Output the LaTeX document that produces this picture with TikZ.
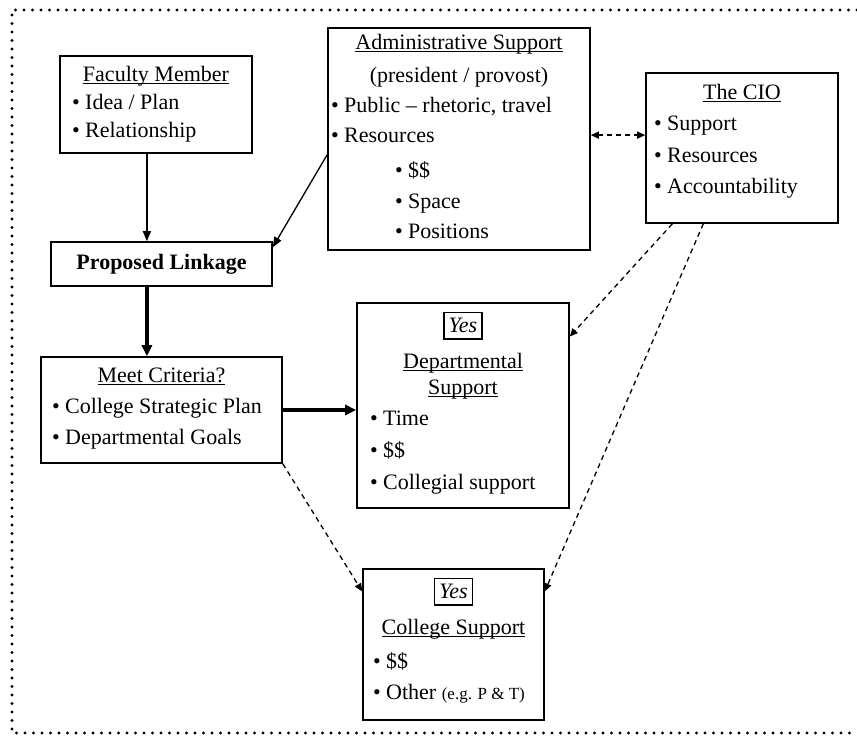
\documentclass[tikz,border=0pt]{standalone}
\usepackage{fontspec}
\setmainfont{Liberation Serif}
\usetikzlibrary{arrows.meta,calc}

% underlined heading: rule just under the baseline, through the descenders
\newcommand\hd[1]{\setbox0\hbox{#1}\rlap{\rule[-2.8pt]{\wd0}{1pt}}\box0}
\newcommand\cl[1]{\makebox[\linewidth]{#1}}
\newcommand\bl{\textbullet\ }
\newcommand\yes{{\setlength\fboxsep{4pt}\setlength\fboxrule{1.3pt}%
  \fbox{\rule[-2pt]{0pt}{17pt}\itshape Yes}}}
% first-line strut; also restores the font's own word spacing
\newcommand\st{\spaceskip=0pt\xspaceskip=0pt\rule{0pt}{21pt}}

\begin{document}
\begin{tikzpicture}[x=1pt,y=-1pt,
  box/.style={draw, line width=1.6pt, inner sep=0pt},
  txt/.style={inner sep=0pt, align=left, anchor=north,
    font=\fontsize{22}{30}\selectfont},
  thinarrow/.style={line width=1.3pt, -{Triangle[length=10pt,width=8pt]}},
  thickarrow/.style={line width=3.6pt, -{Triangle[length=11pt,width=10pt]}},
  dasharrow/.style={line width=1.3pt, dash pattern=on 5pt off 4pt,
    -{Triangle[length=8pt,width=7pt]}},
  border/.style={line width=3.2pt, line cap=round, dash pattern=on 0pt off 8.5pt}]
\useasboundingbox (0,0) rectangle (857,737);

% dotted frame (open on the right)
\draw[border] (857,10) -- (12,10) -- (12,733) -- (857,733);

% boxes
\node[box, minimum width=192, minimum height=97]  (fac)   at (156,104.5) {};
\node[box, minimum width=221, minimum height=44]  (prop)  at (161.5,264) {};
\node[box, minimum width=262, minimum height=222] (adm)   at (459,139) {};
\node[box, minimum width=192, minimum height=150] (cio)   at (742,148) {};
\node[box, minimum width=241, minimum height=106] (meet)  at (161.5,410) {};
\node[box, minimum width=212, minimum height=205] (dept)  at (463,405.5) {};
\node[box, minimum width=181, minimum height=151] (coll)  at (453.5,644.5) {};

% texts (each anchored at the top of its first strut: first baseline - 21)
\node[txt, text width=168, font=\fontsize{22}{28}\selectfont] (fac-t) at (156,60)
  {\st\cl{\hd{Faculty Member}}\\\bl Idea / Plan\\\bl Relationship};
\node[txt, font=\fontsize{22}{30}\selectfont\bfseries, align=center] (prop-t)
  at (161.5,248) {\st Proposed Linkage};
\node[txt, text width=256] (adm-t) at (459,28)
  {\st\cl{\hd{Administrative Support}}\\[3pt]
   \cl{(president / provost)}\\
   \bl Public -- rhetoric, travel\\
   \bl Resources\\[5pt]
   \hspace*{64pt}\bl \$\$\\[1pt]
   \hspace*{64pt}\bl Space\\
   \hspace*{64pt}\bl Positions};
\node[txt, text width=176] (cio-t) at (742,78)
  {\st\cl{\hd{The CIO}}\\[1pt]\bl Support\\[2pt]\bl Resources\\[1pt]\bl Accountability};
\node[txt, text width=219] (meet-t) at (161.5,361)
  {\st\cl{\hd{Meet Criteria?}}\\[1pt]\bl College Strategic Plan\\[1pt]\bl Departmental Goals};
\node[txt, text width=186] (dept-t) at (463,311)
  {\st\cl{\yes}\\[6pt]\cl{\hd{Departmental}}\\[-4pt]\cl{\hd{Support}}\\[1pt]
   \bl Time\\[2pt]\bl \$\$\\[2pt]\bl Collegial support};
\node[txt, text width=161] (coll-t) at (453.5,577)
  {\st\cl{\yes}\\[6pt]\cl{\hd{College Support}}\\[4pt]\bl \$\$\\[1pt]
   \bl Other {\fontsize{17}{20}\selectfont(e.g. P \& T)}};

% connectors
\coordinate (a1) at ($(fac.south west)!0.453!(fac.south east)$);
\draw[thinarrow] (a1) -- (a1 |- prop.north);
\draw[thinarrow] ($(adm.north west)!0.57!(adm.south west)$)
  -- ($(prop.north east)!0.13!(prop.south east)$);
\draw[thickarrow] (a1 |- prop.south) -- (a1 |- meet.north);
\draw[thickarrow] (meet.east) -- (meet.east -| dept.west);
\coordinate (a2) at ($(cio.north west)!0.415!(cio.south west)$);
\draw[dasharrow, {Triangle[length=8pt,width=7pt]}-{Triangle[length=8pt,width=7pt]}]
  (a2 -| adm.east) -- (a2);
\draw[dasharrow] ($(cio.south west)!0.14!(cio.south east)$)
  -- ($(dept.north east)!0.166!(dept.south east)$);
\draw[dasharrow] ($(cio.south west)!0.30!(cio.south east)$)
  -- ($(coll.north east)!0.152!(coll.south east)$);
\draw[dasharrow] (meet.south east)
  -- ($(coll.north west)!0.152!(coll.south west)$);
\end{tikzpicture}
\end{document}
